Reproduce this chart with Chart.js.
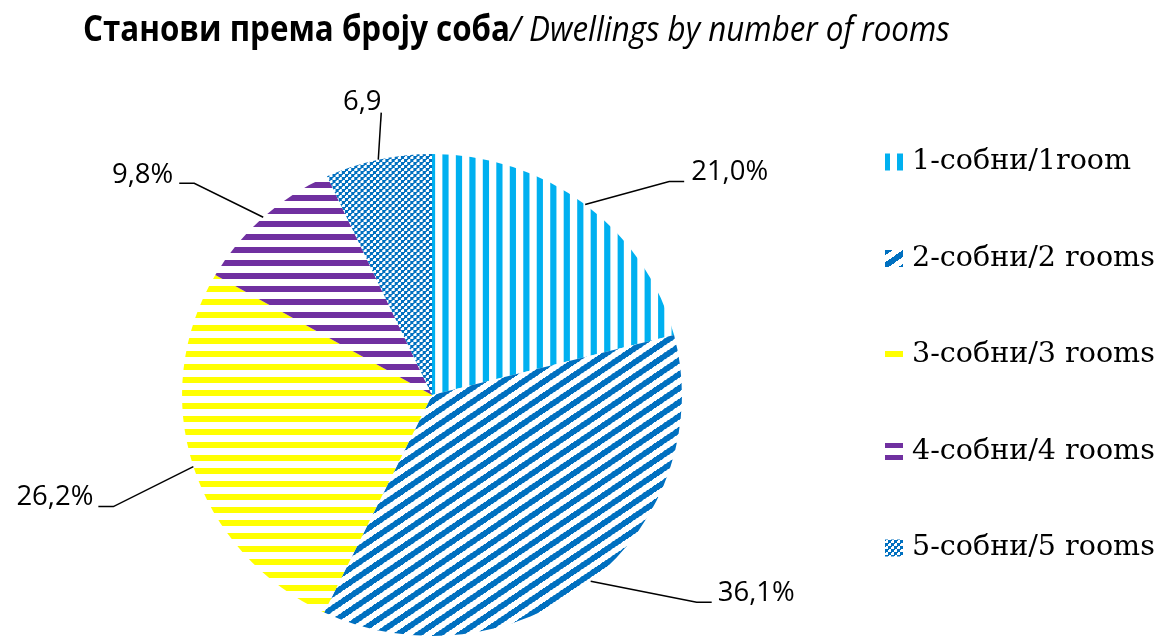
<!DOCTYPE html>
<html><head><meta charset="utf-8">
<script src="https://cdn.jsdelivr.net/npm/chart.js@4/dist/chart.umd.min.js"></script>
<style>html,body{margin:0;padding:0;background:#fff;overflow:hidden}#wrap{width:1168px;height:637px;position:relative}</style>
</head><body><div id="wrap"><canvas id="c" width="1168" height="637"></canvas></div>
<script>
// ---- data ----
const categories = ['1-собни/1room', '2-собни/2 rooms', '3-собни/3 rooms', '4-собни/4 rooms', '5-собни/5 rooms'];
const shares = [21.0, 36.1, 26.2, 9.8, 6.9];
const valueLabels = ['21,0%', '36,1%', '26,2%', '9,8%', '6,9'];
const titleBold = 'Станови према броју соба';
const titleItalic = '/ Dwellings by number of rooms';

// ---- styling / layout ----
const XSCALE = 1.037;
const SANS = '"Open Sans", "Noto Sans", sans-serif';
const SERIF = '"DejaVu Serif", serif';

function tile(w, h, color, fn) {
  const c = document.createElement('canvas'); c.width = w; c.height = h;
  const x = c.getContext('2d');
  x.fillStyle = '#fff'; x.fillRect(0, 0, w, h);
  x.fillStyle = color;
  for (let j = 0; j < h; j++) for (let i = 0; i < w; i++) if (fn(i, j)) x.fillRect(i, j, 1, 1);
  return c;
}
const cctx = document.getElementById('c').getContext('2d');
const pat = (c) => cctx.createPattern(c, 'repeat');
const fills = [
  pat(tile(13, 1, '#00B0F0', (i) => i < 6)),
  pat(tile(20, 14, '#0070C0', (i, j) => (((i + 0.5) / 20 + (j + 0.5) / 14) % 1) < 0.5)),
  pat(tile(1, 13, '#FFFF00', (i, j) => j < 6)),
  pat(tile(1, 13, '#7030A0', (i, j) => j < 6)),
  pat(tile(6, 6, '#0070C0', (i, j) => ((Math.floor(i / 3) + Math.floor(j / 3)) % 2) === 0 || (i % 3 === 0 && j % 3 === 0)))
];

// label placement offsets relative to each slice's outer mid-point
const labelLayout = [
  { elbow: [84, -23], end: [99, -23], text: [106, -32], align: 'left' },
  { elbow: [106, 21], end: [121, 21], text: [127, 12], align: 'left' },
  { elbow: [-80, 40], end: [-95, 40], text: [-100, 31], align: 'right' },
  { elbow: [-69, -34], end: [-84, -34], text: [-90, -42], align: 'right' },
  { elbow: null, end: [3, -47], text: [-16, -57], align: 'center' }
];
const legendLayout = { iconX: 885, iconW: 18, iconH: 17, textX: 912, y0: 162, dy: 96.5, fitText: '2-собни/2 rooms', fitWidth: 243 };
const titleLayout = { x: 83, baseline: 41, width: 867, vscale: 1.12 };

function fitSize(ctx, font, text, width) {
  ctx.font = font(100);
  return 100 * width / ctx.measureText(text).width;
}

const stretch = {
  id: 'stretch',
  beforeDatasetsDraw(chart) {
    const a = chart.getDatasetMeta(0).data[0];
    const ctx = chart.ctx; ctx.save();
    ctx.translate(a.x, a.y); ctx.scale(XSCALE, 1); ctx.translate(-a.x, -a.y);
  },
  afterDatasetsDraw(chart) { chart.ctx.restore(); }
};

const annotations = {
  id: 'annotations',
  afterDraw(chart) {
    const ctx = chart.ctx;
    const meta = chart.getDatasetMeta(0);
    // title
    ctx.save();
    const bf = (s) => `bold ${s}px ${SANS}`, itf = (s) => `italic ${s}px ${SANS}`;
    ctx.font = bf(100); const wb = ctx.measureText(titleBold).width;
    ctx.font = itf(100); const wi = ctx.measureText(titleItalic).width;
    const ts = 100 * titleLayout.width / (wb + wi);
    ctx.translate(titleLayout.x, titleLayout.baseline); ctx.scale(1, titleLayout.vscale);
    ctx.fillStyle = '#000'; ctx.textBaseline = 'alphabetic'; ctx.textAlign = 'left';
    ctx.font = bf(ts); ctx.fillText(titleBold, 0, 0);
    const w1 = ctx.measureText(titleBold).width;
    ctx.font = itf(ts); ctx.fillText(titleItalic, w1, 0);
    ctx.restore();

    // value labels with leader lines
    const lf = (s) => `${s}px ${SANS}`;
    const ls = fitSize(ctx, lf, '21,0%', 77);
    meta.data.forEach((arc, i) => {
      const p = arc.getProps(['x', 'y', 'startAngle', 'endAngle', 'outerRadius'], true);
      const mid = (p.startAngle + p.endAngle) / 2;
      const ax = p.x + Math.cos(mid) * p.outerRadius * XSCALE;
      const ay = p.y + Math.sin(mid) * p.outerRadius;
      const L = labelLayout[i];
      ctx.save();
      ctx.strokeStyle = '#000'; ctx.lineWidth = 1.5;
      ctx.beginPath(); ctx.moveTo(ax, ay);
      if (L.elbow) ctx.lineTo(ax + L.elbow[0], ay + L.elbow[1]);
      ctx.lineTo(ax + L.end[0], ay + L.end[1]);
      ctx.stroke();
      ctx.fillStyle = '#000'; ctx.font = lf(ls);
      ctx.textAlign = L.align; ctx.textBaseline = 'middle';
      ctx.fillText(valueLabels[i], ax + L.text[0], ay + L.text[1]);
      ctx.restore();
    });

    // legend
    const gf = (s) => `${s}px ${SERIF}`;
    const gs = fitSize(ctx, gf, legendLayout.fitText, legendLayout.fitWidth);
    categories.forEach((c, i) => {
      const y = legendLayout.y0 + i * legendLayout.dy;
      ctx.save();
      ctx.fillStyle = fills[i];
      ctx.fillRect(legendLayout.iconX, y - legendLayout.iconH / 2, legendLayout.iconW, legendLayout.iconH);
      ctx.fillStyle = '#000'; ctx.font = gf(gs);
      ctx.textAlign = 'left'; ctx.textBaseline = 'middle';
      ctx.fillText(c, legendLayout.textX, y);
      ctx.restore();
    });
  }
};

new Chart(document.getElementById('c'), {
  type: 'pie',
  data: {
    labels: categories,
    datasets: [{ data: shares, backgroundColor: fills, borderWidth: 0, clip: false }]
  },
  options: {
    responsive: false,
    animation: false,
    devicePixelRatio: 1,
    layout: { padding: { left: 191, right: 495, top: 154, bottom: 1 } },
    plugins: { legend: { display: false }, tooltip: { enabled: false }, title: { display: false } },
    events: []
  },
  plugins: [stretch, annotations]
});
</script>
</body></html>
